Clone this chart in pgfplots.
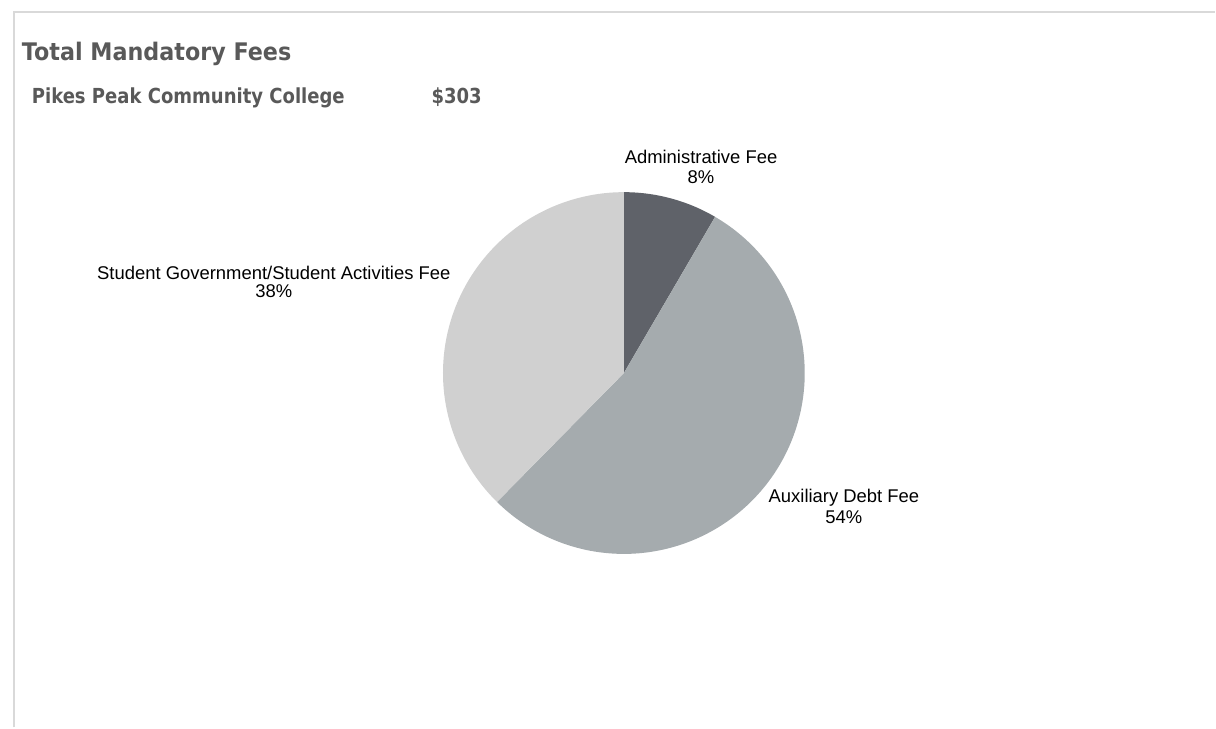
\documentclass[border=0pt]{standalone}
\usepackage{pgfplots}
\usepackage{pgfplotstable}
\pgfplotsset{compat=1.18}
\usepackage{fontspec}
\setmainfont{Liberation Sans}
\newfontfamily\titlefont{DejaVu Sans}[FakeStretch=0.92]
\newfontfamily\subtitlefont{DejaVu Sans}[FakeStretch=0.87]
\definecolor{admincol}{HTML}{5F6269}
\definecolor{auxcol}{HTML}{A5ABAE}
\definecolor{stucol}{HTML}{D0D0D0}
\definecolor{titlecol}{HTML}{595959}
\definecolor{bordercol}{HTML}{D9D9D9}

\pgfplotstableread{
fee value
Administrative 25.5
Auxiliary 163.5
Student 114.0
}\fees

\begin{document}%
\begin{tikzpicture}
\pgfplotstablegetelem{0}{value}\of\fees \let\va\pgfplotsretval
\pgfplotstablegetelem{1}{value}\of\fees \let\vb\pgfplotsretval
\pgfplotstablegetelem{2}{value}\of\fees \let\vc\pgfplotsretval
\pgfmathsetmacro{\tot}{\va+\vb+\vc}
\pgfmathsetmacro{\aA}{90}
\pgfmathsetmacro{\aB}{90-360*(\va/\tot)}
\pgfmathsetmacro{\aC}{\aB-360*(\vb/\tot)}
\pgfmathsetmacro{\aD}{\aC-360*(\vc/\tot)}
\begin{axis}[
  scale only axis, width=1216bp, height=728bp,
  xmin=0, xmax=1216, ymin=0, ymax=728,
  hide axis, clip=false,
]
\addplot[draw=none, forget plot] coordinates {(0,0) (1216,728)};
% border
\addplot[draw=bordercol, line width=1.7bp, forget plot] coordinates {(14,0) (14,716) (1216,716)};
% pie slices
\addplot[fill=admincol, draw=none, domain=\aA:\aB, samples=80, variable=\t]
  ({624.3+181*cos(\t)},{354.7+181*sin(\t)}) -- (axis cs:624.3,354.7) -- cycle;
\addplot[fill=auxcol, draw=none, domain=\aB:\aC, samples=150, variable=\t]
  ({624.3+181*cos(\t)},{354.7+181*sin(\t)}) -- (axis cs:624.3,354.7) -- cycle;
\addplot[fill=stucol, draw=none, domain=\aC:\aD, samples=120, variable=\t]
  ({624.3+181*cos(\t)},{354.7+181*sin(\t)}) -- (axis cs:624.3,354.7) -- cycle;
% titles
\node[anchor=base west, inner sep=0, text=titlecol, font=\titlefont\bfseries\fontsize{24.3}{29}\selectfont] at (axis cs:21.7,667) {Total Mandatory Fees};
\node[anchor=base west, inner sep=0, text=titlecol, font=\subtitlefont\bfseries\fontsize{20.8}{25}\selectfont] at (axis cs:31.7,624.7) {Pikes Peak Community College};
\node[anchor=base west, inner sep=0, text=titlecol, font=\subtitlefont\bfseries\fontsize{20.8}{25}\selectfont] at (axis cs:431.7,624.7) {\$303};
% labels
\node[anchor=base, inner sep=0, font=\fontsize{18.5}{21}\selectfont] at (axis cs:701.5,564.7) {Administrative Fee};
\node[anchor=base, inner sep=0, font=\fontsize{18.5}{21}\selectfont] at (axis cs:701.5,544.7) {8\%};
\node[anchor=base, inner sep=0, font=\fontsize{18.5}{21}\selectfont] at (axis cs:844.5,224.7) {Auxiliary Debt Fee};
\node[anchor=base, inner sep=0, font=\fontsize{18.5}{21}\selectfont] at (axis cs:844.5,204) {54\%};
\node[anchor=base, inner sep=0, font=\fontsize{18.5}{21}\selectfont] at (axis cs:274,448) {Student Government/Student Activities Fee};
\node[anchor=base, inner sep=0, font=\fontsize{18.5}{21}\selectfont] at (axis cs:274,430.3) {38\%};
\end{axis}
\end{tikzpicture}%
\end{document}
